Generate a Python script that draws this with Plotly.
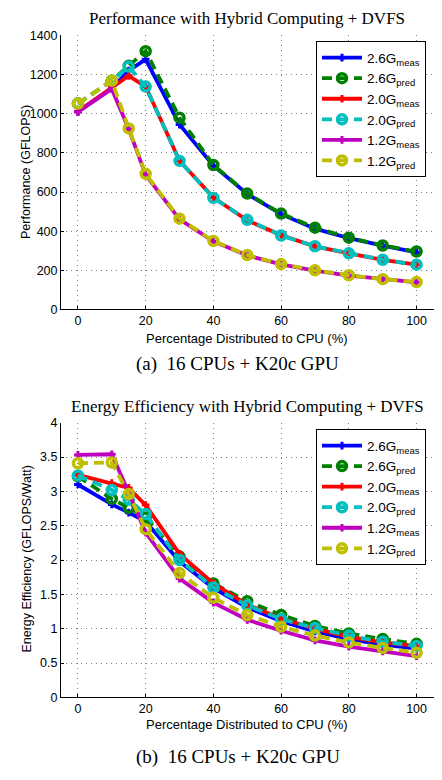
import plotly.graph_objects as go

W, H = 442, 780

x_pct = [0, 10, 15, 20, 30, 40, 50, 60, 70, 80, 90, 100]

# Performance (GFLOPS)
perf_26_meas = [1010, 1130, 1220, 1278, 945, 735, 590, 487, 413, 364, 326, 292]
perf_26_pred = [1052, 1169, 1245, 1320, 980, 738, 592, 490, 418, 367, 327, 296]
perf_20_meas = [1012, 1135, 1194, 1139, 760, 572, 455, 380, 322, 287, 254, 229]
perf_20_pred = [1052, 1169, 1241, 1139, 759, 570, 458, 378, 323, 287, 254, 229]
perf_12_meas = [1010, 1127, 922, 688, 460, 348, 276, 230, 199, 173, 156, 139]
perf_12_pred = [1052, 1169, 925, 693, 464, 350, 278, 232, 200, 175, 155, 140]

# Energy efficiency (GFLOPS/Watt)
eff_26_meas = [3.10, 2.81, 2.69, 2.56, 1.98, 1.59, 1.31, 1.11, 0.96, 0.85, 0.77, 0.71]
eff_26_pred = [3.22, 2.89, 2.76, 2.62, 2.05, 1.66, 1.40, 1.20, 1.04, 0.93, 0.85, 0.78]
eff_20_meas = [3.24, 3.12, 3.05, 2.80, 2.09, 1.66, 1.35, 1.15, 1.00, 0.88, 0.80, 0.75]
eff_20_pred = [3.23, 3.02, 2.88, 2.67, 2.00, 1.60, 1.34, 1.14, 1.01, 0.90, 0.81, 0.75]
eff_12_meas = [3.53, 3.54, 2.98, 2.40, 1.73, 1.38, 1.13, 0.97, 0.83, 0.74, 0.67, 0.60]
eff_12_pred = [3.41, 3.42, 2.96, 2.45, 1.81, 1.45, 1.20, 1.03, 0.90, 0.80, 0.72, 0.65]

series_names = ["2.6G<sub>meas</sub>", "2.6G<sub>pred</sub>", "2.0G<sub>meas</sub>",
                "2.0G<sub>pred</sub>", "1.2G<sub>meas</sub>", "1.2G<sub>pred</sub>"]
series_colors = ["#0000FF", "#008000", "#FF0000", "#00BFBF", "#BF00BF", "#BFBF00"]

perf_series = [perf_26_meas, perf_26_pred, perf_20_meas, perf_20_pred, perf_12_meas, perf_12_pred]
eff_series = [eff_26_meas, eff_26_pred, eff_20_meas, eff_20_pred, eff_12_meas, eff_12_pred]

y_ticks_top = [0, 200, 400, 600, 800, 1000, 1200, 1400]
y_ticks_bot = [0, 0.5, 1, 1.5, 2, 2.5, 3, 3.5, 4]
y_ticklabels_bot = ["0", "0.5", "1", "1.5", "2", "2.5", "3", "3.5", "4"]
x_ticks = [0, 20, 40, 60, 80, 100]

fig = go.Figure()


def px_x(p):
    return p / W


def px_y(p):
    return 1 - p / H


for k, (name, col) in enumerate(zip(series_names, series_colors)):
    pred = k % 2 == 1
    for vals, xa, ya, lg in ((perf_series[k], "x", "y", "legend"),
                             (eff_series[k], "x2", "y2", "legend2")):
        if pred:
            marker = dict(symbol="circle-open", size=9, color=col, line=dict(width=3.5, color=col))
            line = dict(color=col, width=3.8, dash="10px,6px")
        else:
            marker = dict(symbol="cross-thin-open", size=5.5, color=col, line=dict(width=3, color=col))
            line = dict(color=col, width=3.8)
        fig.add_trace(go.Scatter(x=x_pct, y=vals, mode="lines+markers", name=name,
                                 xaxis=xa, yaxis=ya, legend=lg, line=line, marker=marker))

xdom = [px_x(61), px_x(433.5)]
top_dom = [px_y(308), px_y(29)]
bot_dom = [px_y(703), px_y(423.3)]

axis_font = dict(family="Liberation Sans, Arial, sans-serif", size=12.5, color="black")
grid = dict(showgrid=True, gridcolor="#808080", griddash="1px,4px", gridwidth=1)
common_x = dict(grid, range=[-5, 105], tickvals=x_ticks, showline=True, linecolor="black",
                linewidth=1, ticks="inside", ticklen=3, tickcolor="black", tickfont=axis_font,
                zeroline=False, domain=xdom, mirror=False)
common_y = dict(grid, showline=True, linecolor="black", linewidth=1, ticks="inside",
                ticklen=3, tickcolor="black", tickfont=axis_font, zeroline=False)

leg_font = dict(family="Liberation Sans, Arial, sans-serif", size=13.5, color="black")
fig.update_layout(
    width=W, height=H,
    margin=dict(l=0, r=0, t=0, b=0),
    paper_bgcolor="white", plot_bgcolor="white",
    xaxis=dict(common_x, anchor="y"),
    yaxis=dict(common_y, range=[0, 1400], tickvals=y_ticks_top, domain=top_dom, anchor="x"),
    xaxis2=dict(common_x, anchor="y2"),
    yaxis2=dict(common_y, range=[0, 4], tickvals=y_ticks_bot, ticktext=y_ticklabels_bot,
                domain=bot_dom, anchor="x2"),
    legend=dict(x=px_x(316), y=px_y(35), xanchor="left", yanchor="top",
                bgcolor="white", bordercolor="black", borderwidth=1,
                font=leg_font, itemwidth=40, tracegroupgap=0),
    legend2=dict(x=px_x(316), y=px_y(430), xanchor="left", yanchor="top",
                 bgcolor="white", bordercolor="black", borderwidth=1,
                 font=leg_font, itemwidth=40, tracegroupgap=0),
    showlegend=True,
)

serif = "Liberation Serif, Times New Roman, serif"
sans = "Liberation Sans, Arial, sans-serif"
annos = [
    ("Performance with Hybrid Computing + DVFS", 246.5, 12, serif, 17, 0),
    ("Percentage Distributed to CPU (%)", 247, 337.5, sans, 13, 0),
    ("(a)  16 CPUs + K20c GPU", 237.5, 363.5, serif, 19, 0),
    ("Energy Efficiency with Hybrid Computing + DVFS", 247, 407, serif, 17, 0),
    ("Percentage Distributed to CPU (%)", 247, 731, sans, 13, 0),
    ("(b)  16 CPUs + K20c GPU", 237.5, 763.5, serif, 19, 0),
    ("Performance (GFLOPS)", 26, 168, sans, 12.5, -90),
    ("Energy Efficiency (GFLOPS/Watt)", 26.7, 562, sans, 12.5, -90),
]
for text, ax, ay, fam, sz, ang in annos:
    fig.add_annotation(text=text, x=px_x(ax), y=px_y(ay), xref="paper", yref="paper",
                       xanchor="center", yanchor="middle", showarrow=False, textangle=ang,
                       font=dict(family=fam, size=sz, color="black"))

fig.write_html("out.html", config={"displayModeBar": False},
               post_script="document.body.style.margin='0';")
